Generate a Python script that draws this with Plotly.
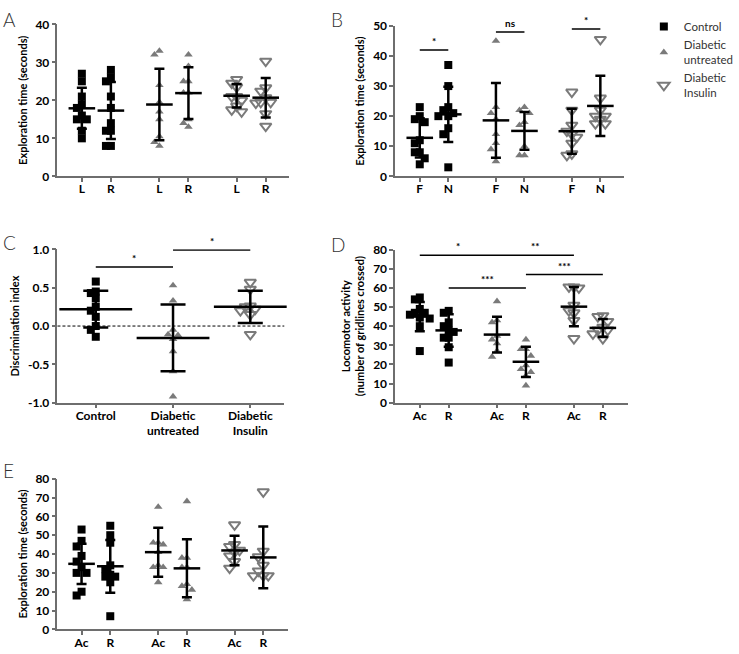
import plotly.graph_objects as go

W, H = 739, 654

# ---------------- data ----------------
# Panel A: exploration time, L / R objects
a_ticks = ["L", "R", "L", "R", "L", "R"]
a_ctrl_L = [27, 25, 21, 19, 18, 16, 15, 15, 12, 10]
a_ctrl_R = [28, 26, 25, 21, 18, 14, 12, 12, 8, 8]
a_untr_L = [33, 32, 24, 19.5, 17, 15, 10.5, 9, 8]
a_untr_R = [32, 29, 25, 25, 22, 22, 15, 14, 13]
a_ins_L = [25.5, 24.5, 23.5, 21, 21, 20, 18.5, 17.5, 17]
a_ins_R = [30.3, 23.3, 22.4, 20.7, 19.5, 19.5, 19.3, 16.5, 13.2]
a_mean = [17.9, 17.3, 18.9, 21.9, 21.2, 20.7]
a_sd = [5.4, 7.5, 9.4, 6.8, 3.1, 5.2]

# Panel B: exploration time, F / N objects
b_ticks = ["F", "N", "F", "N", "F", "N"]
b_ctrl_F = [23, 20, 19, 18, 12, 11, 8, 8, 6, 4]
b_ctrl_N = [37, 30, 23, 22, 21, 20, 20, 16, 14, 3]
b_untr_F = [45, 23, 21, 19, 14, 11, 9, 5]
b_untr_N = [23, 22, 21, 18, 17, 10, 7, 7]
b_ins_F = [28, 22, 17, 15, 14, 13, 11, 7.5, 7]
b_ins_N = [45.5, 26, 22, 20, 20, 19, 17.5, 17.5]
b_mean = [12.8, 20.6, 18.6, 15.1, 15.0, 23.4]
b_sd = [6.5, 9.2, 12.4, 6.3, 7.5, 10.0]
b_sig_from = [0, 2, 4]
b_sig_to = [1, 3, 5]
b_sig_y = [42, 48, 49]
b_sig_text = ["*", "ns", "*"]

# Panel C: discrimination index
c_ticks = ["Control", "Diabetic<br>untreated", "Diabetic<br>Insulin"]
c_ctrl = [0.58, 0.45, 0.43, 0.36, 0.25, 0.2, 0.12, 0.0, -0.05, -0.14]
c_untr = [0.53, 0.33, -0.05, -0.11, -0.12, -0.17, -0.33, -0.59, -0.92]
c_ins = [0.57, 0.48, 0.26, 0.25, 0.22, 0.2, 0.15, -0.11]
c_mean = [0.22, -0.155, 0.25]
c_sd = [0.24, 0.435, 0.21]
c_sig_from = [0, 1]
c_sig_to = [1, 2]
c_sig_y = [0.77, 0.99]
c_sig_text = ["*", "*"]

# Panel D: locomotor activity, Ac / R
d_ticks = ["Ac", "R", "Ac", "R", "Ac", "R"]
d_ctrl_Ac = [55, 54, 49, 47, 47, 46, 44.5, 44, 40, 27]
d_ctrl_R = [48, 47, 42, 40, 38, 37, 34, 34, 29, 21]
d_untr_Ac = [53, 43, 42, 35, 33, 31, 27, 24]
d_untr_R = [33, 28, 28, 24.5, 19.5, 17.5, 16, 14, 9]
d_ins_Ac = [60.5, 60.5, 60, 51, 48, 47, 43, 33.5]
d_ins_R = [45.5, 45, 42.5, 39.5, 38, 38, 36, 33.5]
d_mean = [45.0, 37.8, 35.6, 21.4, 50.2, 39.1]
d_sd = [7.6, 8.5, 9.3, 7.9, 10.3, 4.7]
d_sig_from = [0, 2, 1, 3]
d_sig_to = [2, 4, 3, 5]
d_sig_y = [77, 77, 60, 67]
d_sig_text = ["*", "**", "***", "***"]

# Panel E: exploration time, Ac / R
e_ticks = ["Ac", "R", "Ac", "R", "Ac", "R"]
e_ctrl_Ac = [53, 47, 44, 39, 36, 33, 30, 30, 20, 18]
e_ctrl_R = [55, 50, 46, 34, 32, 29, 28, 28, 25, 7]
e_untr_Ac = [65, 46, 46, 45, 41, 34, 33, 33, 25]
e_untr_R = [68, 38, 38, 33, 33, 24, 23, 21, 16]
e_ins_Ac = [55.5, 45, 44, 42, 41, 39, 36, 32.5]
e_ins_R = [73, 41.5, 38.5, 34, 31, 28.5, 28.5, 28.5]
e_mean = [34.8, 33.5, 41.0, 32.4, 41.9, 38.2]
e_sd = [10.7, 14.0, 13.0, 15.4, 7.8, 16.4]

series_names = ["Control", "Diabetic<br>untreated", "Diabetic<br>Insulin"]

# ---------------- styling / layout ----------------
FONT = "Lato"
GRAY = "#7a7a7a"
AXC = "#6e6e6e"
marker_styles = [
    dict(symbol="square", size=8, color="black"),
    dict(symbol="triangle-up", size=7.5, color=GRAY),
    dict(symbol="triangle-down-open", size=10, color=GRAY, line=dict(width=2, color=GRAY)),
]
POS6 = [0, 1, 2.67, 3.67, 5.33, 6.33]
POS3 = [0, 1, 2]

# panel boxes in pixels: (left, right, top, bottom)
panels = {
    "A": dict(box=(58, 292, 16.7, 172.3), xr=[-0.84, 7.14], yr=[0, 40], dt=10),
    "B": dict(box=(399, 630, 18.3, 172.3), xr=[-0.86, 7.16], yr=[0, 50], dt=10),
    "C": dict(box=(58, 287, 247, 404), xr=[-0.496, 2.44], yr=[-1, 1], dt=0.5),
    "D": dict(box=(399, 634, 247.3, 404), xr=[-0.85, 7.2], yr=[0, 80], dt=10),
    "E": dict(box=(58, 291, 481.7, 636), xr=[-0.84, 7.2], yr=[0, 80], dt=10),
}
axis_ids = {"A": "", "B": "2", "C": "3", "D": "4", "E": "5"}


def swarm(vals, center, step, sep):
    placed = []
    xs = [0.0] * len(vals)
    order = sorted(range(len(vals)), key=lambda i: -vals[i])
    for i in order:
        for k in [0, -1, 1, -2, 2, -3, 3, -4, 4]:
            if all(not (kk == k and abs(vals[i] - yy) < sep) for kk, yy in placed):
                placed.append((k, vals[i]))
                xs[i] = center + k * step
                break
    return xs


fig = go.Figure()


def scales(p):
    l, r, t, b = panels[p]["box"]
    xr, yr = panels[p]["xr"], panels[p]["yr"]
    return (r - l) / (xr[1] - xr[0]), (b - t) / (yr[1] - yr[0])


def add_points(p, groups, positions, means, sds, legend=False, meanw=19, capw=5, spread=5):
    sid = axis_ids[p]
    pxx, pxy = scales(p)
    step = spread / pxx
    sep = 7.0 / pxy
    for s, conds in enumerate(groups):
        xs, ys = [], []
        for c, vals in enumerate(conds):
            idx = s * len(conds) + c
            xs += swarm(vals, positions[idx], step, sep)
            ys += vals
        fig.add_trace(go.Scatter(
            x=xs, y=ys, mode="markers", marker=marker_styles[s],
            name=series_names[s], showlegend=legend,
            xaxis="x" + sid, yaxis="y" + sid, cliponaxis=False, hoverinfo="skip"))
    fig.add_trace(go.Scatter(
        x=positions, y=means, mode="markers", showlegend=False,
        marker=dict(symbol="line-ew", size=meanw, line=dict(width=2.5, color="black"), color="black"),
        error_y=dict(type="data", array=sds, visible=True, color="black", thickness=2.5, width=capw),
        xaxis="x" + sid, yaxis="y" + sid, cliponaxis=False, hoverinfo="skip"))


def add_sig(p, positions, froms, tos, ys, texts):
    sid = axis_ids[p]
    for f, t, y, txt in zip(froms, tos, ys, texts):
        fig.add_shape(type="line", xref="x" + sid, yref="y" + sid,
                      x0=positions[f], x1=positions[t], y0=y, y1=y,
                      line=dict(color="black", width=1.5))
        fig.add_annotation(x=(positions[f] + positions[t]) / 2, y=y, xref="x" + sid, yref="y" + sid,
                           text=txt, showarrow=False, yanchor="bottom", yshift=1,
                           font=dict(family=FONT, size=10, color="black", weight="bold"))


add_points("A", [[a_ctrl_L, a_ctrl_R], [a_untr_L, a_untr_R], [a_ins_L, a_ins_R]], POS6, a_mean, a_sd)
add_points("B", [[b_ctrl_F, b_ctrl_N], [b_untr_F, b_untr_N], [b_ins_F, b_ins_N]], POS6, b_mean, b_sd, legend=True)
add_points("C", [[c_ctrl], [c_untr], [c_ins]], POS3, c_mean, c_sd, meanw=52, capw=12.5, spread=5)
add_points("D", [[d_ctrl_Ac, d_ctrl_R], [d_untr_Ac, d_untr_R], [d_ins_Ac, d_ins_R]], POS6, d_mean, d_sd)
add_points("E", [[e_ctrl_Ac, e_ctrl_R], [e_untr_Ac, e_untr_R], [e_ins_Ac, e_ins_R]], POS6, e_mean, e_sd)

add_sig("B", POS6, b_sig_from, b_sig_to, b_sig_y, b_sig_text)
add_sig("C", POS3, c_sig_from, c_sig_to, c_sig_y, c_sig_text)
add_sig("D", POS6, d_sig_from, d_sig_to, d_sig_y, d_sig_text)

# dashed zero line in C
fig.add_shape(type="line", xref="x3 domain", yref="y3", x0=0, x1=1, y0=0, y1=0,
              line=dict(color="black", width=1, dash="3px,2px"))

ytitles = {
    "A": "Exploration time (seconds)",
    "B": "Exploration time (seconds)",
    "C": "Discrimination index",
    "D": "Locomotor activity<br>(number of gridlines crossed)",
    "E": "Exploration time (seconds)",
}
xticks = {"A": (POS6, a_ticks), "B": (POS6, b_ticks), "C": (POS3, c_ticks),
          "D": (POS6, d_ticks), "E": (POS6, e_ticks)}

tickfont = dict(family=FONT, size=12, color="black", weight="bold")
layout = {}
for p, cfg in panels.items():
    sid = axis_ids[p]
    l, r, t, b = cfg["box"]
    common = dict(showline=True, linecolor=AXC, linewidth=1.5, ticks="outside", ticklen=4,
                  tickwidth=1.5, tickcolor=AXC, showgrid=False, zeroline=False,
                  tickfont=tickfont, fixedrange=True)
    layout["xaxis" + sid] = dict(domain=[l / W, r / W], range=cfg["xr"], anchor="y" + sid,
                                 tickmode="array", tickvals=xticks[p][0], ticktext=xticks[p][1],
                                 ticklabelstandoff=-3, **common)
    yax = dict(domain=[1 - b / H, 1 - t / H], range=cfg["yr"], anchor="x" + sid,
               dtick=cfg["dt"], tick0=0,
               title=dict(text=ytitles[p], font=dict(family=FONT, size=11, color="black", weight="bold"),
                          standoff=6),
               **common)
    if p == "C":
        yax.update(tickmode="array", tickvals=[-1, -0.5, 0, 0.5, 1],
                   ticktext=["-1.0", "-0.5", "0.0", "0.5", "1.0"])
    layout["yaxis" + sid] = yax

fig.update_layout(**layout)

letters = {"A": (1, 12), "B": (332, 12), "C": (1, 240), "D": (332, 242), "E": (1, 473)}
for k, (lx, ly) in letters.items():
    fig.add_annotation(x=lx / W, y=1 - ly / H, xref="paper", yref="paper", text=k, showarrow=False,
                       xanchor="left", yanchor="middle",
                       font=dict(family=FONT, size=19, color="#333333", weight=300))

fig.update_layout(
    width=W, height=H, margin=dict(l=0, r=0, t=0, b=0),
    paper_bgcolor="white", plot_bgcolor="white",
    showlegend=True,
    legend=dict(x=650 / W, y=1 - 4 / H, xanchor="left", yanchor="top",
                font=dict(family=FONT, size=11.5, color="#333333"),
                bgcolor="rgba(0,0,0,0)", itemsizing="trace", tracegroupgap=3),
)

fig.write_html("out.html", config={"displayModeBar": False},
               post_script="document.body.style.margin='0px';")
